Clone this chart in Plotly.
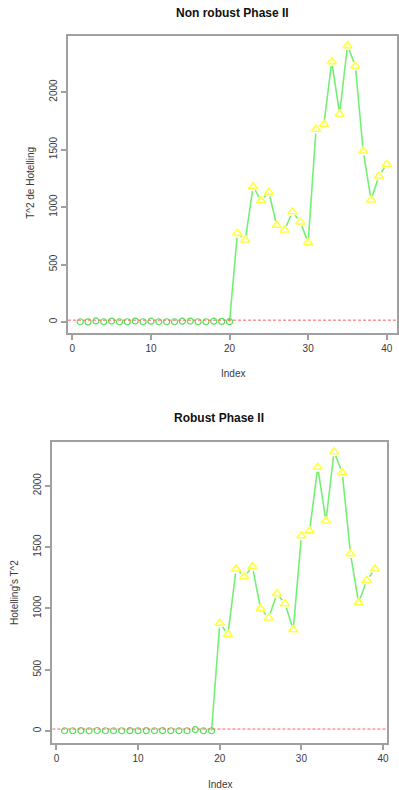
import plotly.graph_objects as go

# ---------------- data ----------------
top_index = list(range(1, 41))
top_t2 = [2, 1, 9, 2, 8, 2, 2, 8, 2, 7, 2, 2, 2, 7, 8, 2, 2, 7, 5, 3,
          771, 713, 1177, 1055, 1128, 841, 800, 959, 870, 690,
          1676, 1719, 2264, 1809, 2403, 2226, 1487, 1061, 1270, 1371]
top_in_control = 20          # first 20 points plotted as circles
top_ucl = 16

bot_index = list(range(1, 40))
bot_t2 = [2, 2, 3, 2, 4, 2, 2, 2, 3, 2, 3, 2, 3, 2, 2, 2, 12, 2, 2,
          878, 788, 1321, 1258, 1340, 997, 921, 1120, 1038, 826,
          1592, 1633, 2150, 1712, 2277, 2106, 1446, 1046, 1229, 1321]
bot_in_control = 19
bot_ucl = 16

x_ticks = [0, 10, 20, 30, 40]
y_ticks = [0, 500, 1000, 1500, 2000]

titles = ["Non robust Phase II", "Robust Phase II"]
y_titles = ["T^2 de Hotelling", "Hotelling's T^2"]
x_title = "Index"

# ---------------- style ----------------
W, H = 399, 790
GREEN_LINE = "#74f074"
GREEN_PT = "#55e055"
YELLOW = "#ffff40"
RED = "#ff6060"
BOX = "#a0a0a0"
TXT = "#3a3a3a"
FONT = "Liberation Sans, Arial, sans-serif"

fig = go.Figure()


def add_panel(idx, vals, n_in, ucl, xa, ya):
    xs_line = idx[n_in - 1:]
    ys_line = vals[n_in - 1:]
    fig.add_trace(go.Scatter(x=xs_line, y=ys_line, mode="lines",
                             line=dict(color=GREEN_LINE, width=1.6),
                             xaxis=xa, yaxis=ya, hoverinfo="skip", showlegend=False))
    # white gaps around points (R type="b")
    fig.add_trace(go.Scatter(x=idx[n_in:], y=vals[n_in:], mode="markers",
                             marker=dict(symbol="circle", size=9, color="white"),
                             xaxis=xa, yaxis=ya, hoverinfo="skip", showlegend=False))
    fig.add_trace(go.Scatter(x=idx[:n_in], y=vals[:n_in], mode="markers",
                             marker=dict(symbol="circle-open", size=6, color=GREEN_PT,
                                         line=dict(color=GREEN_PT, width=1.2)),
                             xaxis=xa, yaxis=ya, showlegend=False))
    fig.add_trace(go.Scatter(x=idx[n_in:], y=vals[n_in:], mode="markers",
                             marker=dict(symbol="triangle-up-open", size=8, color=YELLOW,
                                         line=dict(color=YELLOW, width=1.6)),
                             xaxis=xa, yaxis=ya, showlegend=False))
    fig.add_shape(type="line", xref=f"{xa} domain", yref=ya, x0=0, x1=1,
                  y0=ucl, y1=ucl, line=dict(color=RED, width=1, dash="3px,2px"),
                  layer="above")


add_panel(top_index, top_t2, top_in_control, top_ucl, "x", "y")
add_panel(bot_index, bot_t2, bot_in_control, bot_ucl, "x2", "y2")


def px_x(p):
    return p / W


def px_y(p):
    return 1 - p / H


axis_common = dict(showgrid=False, zeroline=False, showline=True, mirror=True,
                   linecolor=BOX, linewidth=2, ticks="outside", ticklen=5,
                   tickcolor=BOX, tickwidth=1.5,
                   tickfont=dict(family=FONT, size=10, color=TXT))

fig.update_layout(
    width=W, height=H, margin=dict(l=0, r=0, t=0, b=0),
    paper_bgcolor="white", plot_bgcolor="white", showlegend=False,
    xaxis=dict(domain=[px_x(68.3), 1.0], range=[-0.557, 41.3], anchor="y",
               tickvals=x_ticks, **axis_common),
    yaxis=dict(domain=[px_y(333), px_y(36)], range=[-95.7, 2487], anchor="x",
               tickvals=y_ticks, tickangle=-90, **axis_common),
    xaxis2=dict(domain=[px_x(52.7), px_x(389.3)], range=[-0.487, 40.52], anchor="y2",
                tickvals=x_ticks, **axis_common),
    yaxis2=dict(domain=[px_y(742.7), px_y(441.7)], range=[-95.4, 2358.7], anchor="x2",
                tickvals=y_ticks, tickangle=-90, **axis_common),
)

ann = []
# titles
ann.append(dict(text=f"<b>{titles[0]}</b>", x=px_x(234), y=px_y(13)))
ann.append(dict(text=f"<b>{titles[1]}</b>", x=px_x(220), y=px_y(418)))
for a in ann:
    a.update(xref="paper", yref="paper", showarrow=False, xanchor="center",
             yanchor="middle", font=dict(family=FONT, size=12, color="#111"))
small = []
small.append(dict(text=x_title, x=px_x(234), y=px_y(373)))
small.append(dict(text=x_title, x=px_x(221), y=px_y(784)))
small.append(dict(text=y_titles[0], x=px_x(30), y=px_y(183), textangle=-90))
small.append(dict(text=y_titles[1], x=px_x(14), y=px_y(592), textangle=-90))
for a in small:
    a.update(xref="paper", yref="paper", showarrow=False, xanchor="center",
             yanchor="middle", font=dict(family=FONT, size=10, color=TXT))
fig.update_layout(annotations=ann + small)

fig.write_html("out.html")
